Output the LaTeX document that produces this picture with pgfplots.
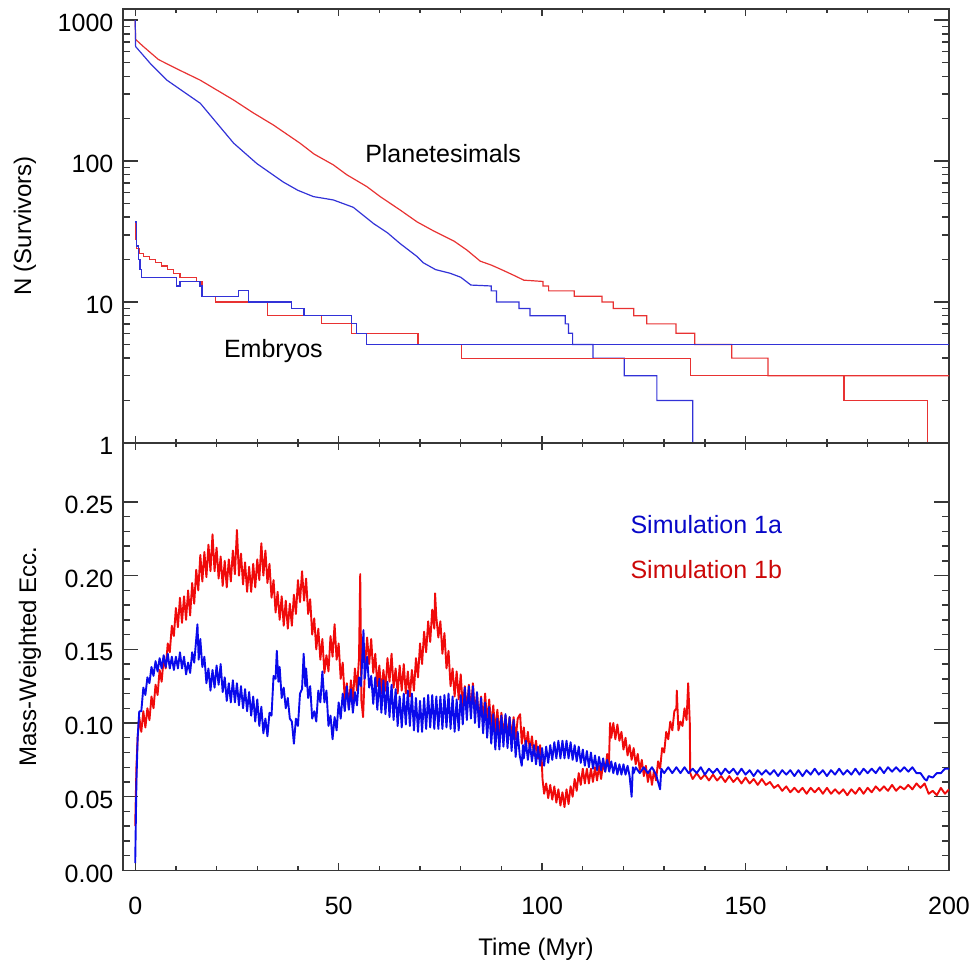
\documentclass[border=0pt]{standalone}
\usepackage{fontspec}
\setmainfont{Liberation Sans}
\usepackage{pgfplots}
\pgfplotsset{compat=1.18}
\definecolor{tred}{RGB}{232,50,50}
\definecolor{tblue}{RGB}{50,50,215}
\definecolor{ered}{RGB}{240,10,10}
\definecolor{eblue}{RGB}{10,10,235}
\definecolor{axgray}{RGB}{55,55,55}
\pgfplotsset{
  myaxis/.style={
    scale only axis, width=413pt,
    xmin=-3, xmax=200,
    xtick={0,50,100,150,200}, minor x tick num=4,
    tick align=inside,
    axis line style={axgray, line width=0.9pt},
    every tick/.style={axgray, line width=0.7pt},
    xtick style={/pgfplots/major tick length=3.5pt, /pgfplots/minor tick length=2pt},
    ytick style={/pgfplots/major tick length=7.5pt, /pgfplots/minor tick length=3.5pt},
    tick label style={font=\fontsize{12.5}{14}\selectfont},
    label style={font=\fontsize{12}{14}\selectfont},
    /pgf/number format/assume math mode=true,
    yticklabel shift=1.3pt,
    yticklabel style={yshift=-1.5pt},
    xticklabel shift=10pt,
  }
}
\begin{document}
\begin{tikzpicture}
\path[use as bounding box] (-61.5pt,-259.5pt) rectangle (425.5pt,221.5pt);
% ---------------- top panel ----------------
\begin{axis}[myaxis,
  at={(0pt,0pt)}, anchor=south west, height=217pt,
  ymode=log, ymin=1, ymax=1200,
  ytick={1,10,100,1000}, yticklabels={1,10,100,1000},
  minor ytick={2,3,4,5,6,7,8,9,20,30,40,50,60,70,80,90,200,300,400,500,600,700,800,900},
  xticklabels={},
  ylabel={N (Survivors)},
  y label style={at={(axis description cs:-0.1186,0.5)}, anchor=center},
]
% planetesimals, simulation 1b
\addplot[tred, line width=0.6pt] coordinates {
(0,1000)(0.1,730)(2,650)(5.7,526)(10,455)(16,375)(20,320)(24.2,271)(29,220)(34,180)
(40.5,134)(44,112)(48.7,94)(52,80)(56.9,66)(60.2,56)(65.1,45)(69.3,37)(73.3,32)(78.4,27)
(81.5,23.4)(84.8,19.5)(87.5,18.3)(90,17)(93,15.5)(95.5,14.3)(100.2,14)(100.2,13)(101.6,13)(101.6,12)
(107.9,12)(107.9,11)(114.7,11)(114.7,10)(117.5,10)(117.5,9)(122.5,9)(122.5,8)(125.7,8)(125.7,7)
(132.9,7)(132.9,6)(137.5,6)(137.5,5)(146.6,5)(146.6,4)(155.5,4)(155.5,3)(200,3)};
% planetesimals, simulation 1a
\addplot[tblue, line width=0.6pt] coordinates {
(0,1000)(0.1,650)(3.7,493)(7.8,375)(12,309)(16,257)(20,187)(24.2,134)(29.9,96)(36.4,71)
(40,62)(43.8,56)(48.7,53)(53.6,47)(58.6,36)(62,31)(65.1,26)(69.3,21)(70.8,19)(73.8,17)
(77.4,16)(80,15)(82.5,13.2)(87.5,13)(87.5,12)(88.8,12)(88.8,10)(94.3,10)(94.3,9)(97,9)
(97,8)(105.7,8)(105.7,7)(106.5,7)(106.5,6)(107.5,6)(107.5,5)(112.5,5)(112.5,4)(120.2,4)
(120.2,3)(128.2,3)(128.2,2)(137,2)(137,1)(200,1)};
% embryos, simulation 1b
\addplot[tred, line width=0.6pt, const plot] coordinates {
(0,37)(0.2,28)(0.4,24)(1,22)(2,21)(3.5,20)(5,19)(6.5,18)(8,17)(9.5,16)(11,15)(15.1,14)
(16.4,11)(19.7,10)(32.5,8)(45.8,7)(53.2,6)(69.5,5)(80.2,4)(136.4,3)(174.2,2)(194.7,1)(200,1)};
% embryos, simulation 1a
\addplot[tblue, line width=0.6pt, const plot] coordinates {
(0,37)(0.4,25)(0.8,20)(1.2,17)(1.6,15)(10.2,13)(11,14)(15.9,13)(16.4,11)(25.4,12)
(27.8,10)(38.5,9)(41.5,8)(53.2,7)(54.4,6)(56.9,5)(200,5)};
\node[anchor=base west, font=\fontsize{12.5}{14}\selectfont] at (axis cs:54.8,98) {Planetesimals};
\node[anchor=base west, font=\fontsize{12.5}{14}\selectfont] at (axis cs:20.1,4.07) {Embryos};
\end{axis}
% ---------------- bottom panel ----------------
\begin{axis}[myaxis,
  at={(0pt,0pt)}, anchor=north west, height=213.7pt,
  ymin=0, ymax=0.29,
  ytick={0,0.05,0.1,0.15,0.2,0.25}, minor y tick num=4,
  yticklabel style={/pgf/number format/.cd, fixed, fixed zerofill, precision=2},
  xticklabels={0,50,100,150,200},
  xlabel={Time (Myr)},
  x label style={at={(axis description cs:0.5,-0.199)}, anchor=base},
  ylabel={Mass-Weighted Ecc.},
  y label style={at={(axis description cs:-0.1126,0.5)}, anchor=center},
]
% simulation 1b
\addplot[ered, line width=0.95pt, line join=round] coordinates {
(0,0.030)(0.3,0.070)(0.6,0.090)(1,0.104)(1.5,0.094)(2,0.108)(2.5,0.097)(3,0.110)(3.5,0.102)(4,0.118)
(4.5,0.110)(5,0.126)(5.5,0.119)(6,0.136)(6.5,0.128)(7,0.144)(7.5,0.137)(8,0.154)(8.5,0.148)(9,0.166)
(9.5,0.159)(10,0.178)(10.5,0.165)(11,0.185)(11.5,0.168)(12,0.186)(12.5,0.170)(13,0.190)(13.5,0.173)(14,0.195)
(14.5,0.181)(15,0.204)(15.5,0.190)(16,0.214)(16.5,0.196)(17,0.216)(17.5,0.199)(18,0.221)(18.5,0.203)(19,0.228)
(19.5,0.203)(20,0.219)(20.5,0.198)(21,0.213)(21.5,0.193)(22,0.210)(22.5,0.192)(23,0.211)(23.5,0.196)(24,0.217)
(24.5,0.201)(25,0.231)(25.5,0.200)(26,0.215)(26.5,0.194)(27,0.209)(27.5,0.189)(28,0.206)(28.5,0.189)(29,0.208)
(29.5,0.192)(30,0.211)(30.5,0.197)(31,0.222)(31.5,0.200)(32,0.217)(32.5,0.195)(33,0.208)(33.5,0.185)(34,0.197)
(34.5,0.175)(35,0.189)(35.5,0.170)(36,0.186)(36.5,0.166)(37,0.183)(37.5,0.164)(38,0.181)(38.5,0.166)(39,0.187)
(39.5,0.174)(40,0.197)(40.5,0.182)(41,0.203)(41.5,0.183)(42,0.198)(42.5,0.174)(43,0.184)(43.5,0.160)(44,0.171)
(44.5,0.150)(45,0.164)(45.5,0.143)(46,0.157)(46.5,0.134)(47,0.146)(47.5,0.135)(48,0.159)(48.5,0.145)(49,0.167)
(49.5,0.143)(50,0.154)(50.5,0.130)(51,0.141)(51.5,0.116)(52,0.127)(52.5,0.110)(53,0.129)(53.5,0.115)(54,0.137)
(54.5,0.122)(55,0.144)(55.3,0.201)(55.6,0.115)(56,0.104)(56.5,0.140)(57,0.158)(57.5,0.140)(58,0.157)(58.5,0.134)
(59,0.147)(59.5,0.125)(60,0.139)(60.5,0.120)(61,0.136)(61.5,0.122)(62,0.144)(62.5,0.128)(63,0.147)(63.5,0.124)
(64,0.137)(64.5,0.120)(65,0.139)(65.5,0.122)(66,0.140)(66.5,0.120)(67,0.135)(67.5,0.118)(68,0.136)(68.5,0.122)
(69,0.144)(69.5,0.131)(70,0.154)(70.5,0.140)(71,0.162)(71.5,0.148)(72,0.169)(72.5,0.155)(73,0.177)(73.5,0.164)
(73.7,0.188)(74,0.172)(74.5,0.158)(75,0.169)(75.5,0.147)(76,0.161)(76.5,0.137)(77,0.149)(77.5,0.125)(78,0.137)
(78.5,0.118)(79,0.135)(79.5,0.116)(80,0.133)(80.5,0.111)(81,0.125)(81.5,0.108)(82,0.126)(82.5,0.109)(83,0.127)
(83.5,0.106)(84,0.120)(84.5,0.101)(85,0.118)(85.5,0.101)(86,0.120)(86.5,0.100)(87,0.116)(87.5,0.097)(88,0.112)
(88.5,0.094)(89,0.109)(89.5,0.092)(90,0.107)(90.5,0.091)(91,0.105)(91.5,0.090)(92,0.104)(92.5,0.090)(93,0.104)
(93.5,0.089)(94,0.103)(94.6,0.106)(95,0.086)(95.5,0.097)(96,0.083)(96.5,0.094)(97,0.081)(97.5,0.091)(98,0.078)
(98.5,0.088)(99,0.076)(99.5,0.085)(99.9,0.075)(100.1,0.062)(100.5,0.052)(101,0.059)(101.5,0.049)(102,0.058)(102.5,0.048)
(103,0.057)(103.5,0.046)(104,0.055)(104.5,0.044)(105,0.053)(105.5,0.043)(106,0.055)(106.5,0.045)(107,0.057)(107.5,0.050)
(108,0.062)(108.5,0.054)(109,0.066)(109.5,0.058)(110,0.069)(110.5,0.059)(111,0.069)(111.5,0.059)(112,0.069)(112.5,0.060)
(113,0.070)(113.5,0.061)(114,0.071)(114.5,0.062)(115,0.073)(115.5,0.067)(116,0.079)(116.4,0.070)(116.7,0.100)(117,0.090)
(117.5,0.100)(118,0.089)(118.5,0.099)(119,0.088)(119.5,0.094)(120,0.082)(120.5,0.090)(121,0.078)(121.5,0.085)(122,0.075)
(122.5,0.083)(123,0.072)(123.5,0.079)(124,0.068)(124.5,0.075)(125,0.064)(125.5,0.071)(126,0.060)(126.5,0.068)(127,0.058)
(127.5,0.068)(128,0.061)(128.5,0.074)(129,0.069)(129.5,0.083)(130,0.080)(130.5,0.094)(131,0.089)(131.5,0.101)(132,0.095)
(132.5,0.108)(133,0.110)(133.1,0.122)(133.5,0.095)(134,0.101)(134.5,0.098)(135,0.110)(135.5,0.102)(135.9,0.127)(136.3,0.100)
(136.4,0.066)(137,0.062)(138,0.066)(139,0.062)(140,0.065)(141,0.061)(142,0.065)(143,0.061)(144,0.064)(145,0.060)
(146,0.064)(147,0.060)(148,0.063)(149,0.059)(150,0.063)(151,0.059)(152,0.062)(153,0.058)(154,0.062)(155,0.058)
(156,0.060)(157,0.056)(158,0.058)(159,0.054)(160,0.057)(161,0.053)(162,0.056)(163,0.053)(164,0.056)(165,0.052)
(166,0.056)(167,0.053)(168,0.056)(169,0.052)(170,0.056)(171,0.052)(172,0.055)(173,0.052)(174,0.055)(175,0.051)
(176,0.055)(177,0.052)(178,0.056)(179,0.052)(180,0.056)(181,0.053)(182,0.057)(183,0.054)(184,0.057)(185,0.054)
(186,0.058)(187,0.054)(188,0.057)(189,0.055)(190,0.058)(191,0.055)(192,0.059)(193,0.056)(194,0.059)(195,0.052)
(196,0.054)(197,0.051)(198,0.056)(199,0.052)(200,0.055)};
% simulation 1a
\addplot[eblue, line width=0.95pt, line join=round] coordinates {
(0,0.005)(0.3,0.060)(0.6,0.090)(1,0.108)(1.5,0.108)(2,0.124)(2.5,0.119)(3,0.131)(3.5,0.127)(4,0.138)
(4.5,0.132)(5,0.142)(5.5,0.135)(6,0.144)(6.5,0.137)(7,0.146)(7.5,0.138)(8,0.147)(8.5,0.137)(9,0.145)
(9.5,0.136)(10,0.145)(10.5,0.137)(11,0.148)(11.5,0.137)(12,0.145)(12.5,0.133)(13,0.141)(13.5,0.134)(14,0.148)
(14.5,0.141)(15,0.157)(15.3,0.167)(15.6,0.143)(16,0.157)(16.5,0.138)(17,0.145)(17.5,0.127)(18,0.137)(18.5,0.122)
(19,0.136)(19.5,0.124)(20,0.139)(20.5,0.126)(21,0.140)(21.5,0.121)(22,0.131)(22.5,0.115)(23,0.127)(23.5,0.114)
(24,0.129)(24.5,0.114)(25,0.127)(25.5,0.112)(26,0.125)(26.5,0.110)(27,0.123)(27.5,0.108)(28,0.121)(28.5,0.105)
(29,0.118)(29.5,0.101)(30,0.116)(30.5,0.098)(31,0.111)(31.5,0.093)(32,0.103)(32.5,0.091)(33,0.107)(33.5,0.105)
(34,0.132)(34.5,0.130)(34.8,0.149)(35.2,0.128)(35.5,0.138)(36,0.117)(36.5,0.124)(37,0.110)(37.5,0.117)(38,0.103)
(38.5,0.101)(39,0.086)(39.5,0.103)(40,0.098)(40.5,0.120)(41,0.123)(41.4,0.147)(41.8,0.125)(42,0.137)(42.5,0.117)
(43,0.125)(43.5,0.103)(44,0.108)(44.5,0.101)(45,0.122)(45.5,0.114)(46,0.135)(46.5,0.114)(47,0.122)(47.5,0.098)
(48,0.105)(48.5,0.089)(49,0.104)(49.5,0.095)(50,0.114)(50.5,0.103)(51,0.120)(51.5,0.108)(52,0.125)(52.5,0.109)
(53,0.123)(53.5,0.107)(54,0.121)(54.5,0.112)(55,0.131)(55.5,0.125)(56.1,0.163)(56.4,0.130)(57,0.145)(57.5,0.124)
(58,0.132)(58.5,0.113)(59,0.131)(59.5,0.109)(60,0.130)(60.5,0.107)(61,0.129)(61.5,0.106)(62,0.128)(62.5,0.104)
(63,0.126)(63.5,0.102)(64,0.123)(64.5,0.098)(65,0.118)(65.5,0.097)(66,0.120)(66.5,0.099)(67,0.122)(67.5,0.098)
(68,0.120)(68.5,0.095)(69,0.117)(69.5,0.094)(70,0.115)(70.5,0.094)(71,0.117)(71.5,0.096)(72,0.119)(72.5,0.097)
(73,0.119)(73.5,0.096)(74,0.118)(74.5,0.096)(75,0.118)(75.5,0.096)(76,0.119)(76.5,0.097)(77,0.120)(77.5,0.096)
(78,0.118)(78.5,0.094)(79,0.116)(79.5,0.095)(80,0.119)(80.5,0.099)(81,0.124)(81.5,0.102)(82,0.125)(82.5,0.103)
(83,0.125)(83.5,0.100)(84,0.121)(84.5,0.097)(85,0.117)(85.5,0.093)(86,0.114)(86.5,0.090)(87,0.111)(87.5,0.086)
(88,0.106)(88.5,0.082)(89,0.103)(89.5,0.082)(90,0.105)(90.5,0.084)(91,0.106)(91.5,0.083)(92,0.104)(92.5,0.081)
(93,0.102)(93.5,0.077)(94,0.094)(94.5,0.078)(95,0.071)(95.3,0.085)(95.5,0.076)(96,0.088)(96.5,0.075)(97,0.086)
(97.5,0.074)(98,0.085)(98.5,0.072)(99,0.084)(99.5,0.071)(100,0.083)(100.5,0.071)(101,0.084)(101.5,0.073)(102,0.085)
(102.5,0.075)(103,0.087)(103.5,0.076)(104,0.088)(104.5,0.076)(105,0.088)(105.5,0.076)(106,0.088)(106.5,0.076)(107,0.087)
(107.5,0.075)(108,0.085)(108.5,0.074)(109,0.084)(109.5,0.073)(110,0.082)(110.5,0.071)(111,0.081)(111.5,0.070)(112,0.080)
(112.5,0.069)(113,0.078)(113.5,0.068)(114,0.077)(114.5,0.068)(115,0.076)(115.5,0.067)(116,0.075)(116.5,0.067)(117,0.074)
(117.5,0.066)(118,0.073)(118.5,0.065)(119,0.072)(119.5,0.065)(120,0.072)(120.5,0.065)(121,0.071)(121.5,0.064)(122,0.050)
(122.3,0.070)(122.5,0.066)(123,0.070)(124,0.066)(125,0.070)(126,0.066)(127,0.070)(128,0.065)(129,0.055)(129.3,0.069)
(130,0.066)(131,0.070)(132,0.066)(133,0.070)(134,0.066)(135,0.070)(136,0.066)(137,0.069)(138,0.066)(139,0.070)
(140,0.065)(141,0.069)(142,0.066)(143,0.069)(144,0.065)(145,0.069)(146,0.066)(147,0.069)(148,0.065)(149,0.069)
(150,0.065)(151,0.068)(152,0.064)(153,0.068)(154,0.065)(155,0.068)(156,0.065)(157,0.068)(158,0.064)(159,0.068)
(160,0.065)(161,0.068)(162,0.064)(163,0.068)(164,0.064)(165,0.068)(166,0.065)(167,0.069)(168,0.065)(169,0.068)
(170,0.064)(171,0.068)(172,0.065)(173,0.069)(174,0.065)(175,0.068)(176,0.065)(177,0.069)(178,0.065)(179,0.069)
(180,0.066)(181,0.069)(182,0.066)(183,0.070)(184,0.066)(185,0.070)(186,0.067)(187,0.070)(188,0.067)(189,0.070)
(190,0.067)(191,0.070)(192,0.066)(193,0.066)(194,0.062)(194.5,0.061)(195,0.064)(196,0.063)(197,0.066)(198,0.066)
(199,0.069)(200,0.069)};
\node[anchor=base west, text=eblue!85!black, font=\fontsize{12.5}{14}\selectfont] at (axis cs:120,0.2285) {Simulation 1a};
\node[anchor=base west, text=ered!85!black, font=\fontsize{12.5}{14}\selectfont] at (axis cs:120,0.198) {Simulation 1b};
\end{axis}
\end{tikzpicture}
\end{document}
